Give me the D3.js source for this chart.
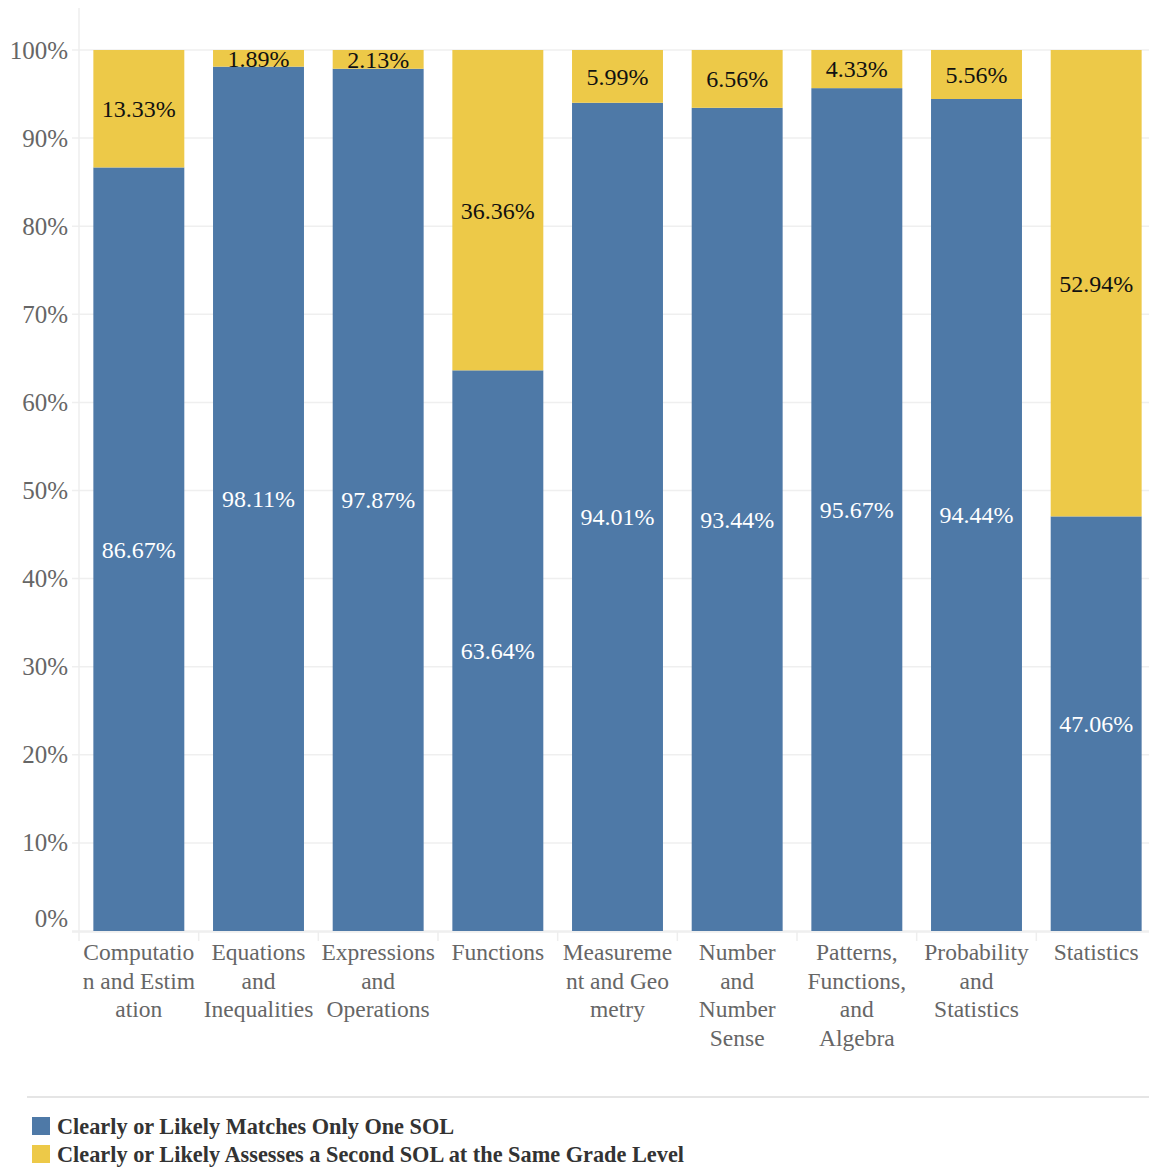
<!DOCTYPE html>
<html>
<head>
<meta charset="utf-8">
<script src="https://cdn.jsdelivr.net/npm/d3@7"></script>
<style>
  html, body { margin: 0; padding: 0; background: #fff; }
  svg { display: block; }
  text { font-family: "Liberation Serif", "Times New Roman", serif; }
</style>
</head>
<body>
<div id="chart"></div>
<script>
// Share of items per strand: matches only one SOL vs. assesses a second SOL
const categories = [
  "Computation and Estimation", "Equations and Inequalities", "Expressions and Operations",
  "Functions", "Measurement and Geometry", "Number and Number Sense",
  "Patterns, Functions, and Algebra", "Probability and Statistics", "Statistics"
];
// Wrapped category labels as they appear under the axis
const categoryLines = [
  ["Computatio", "n and Estim", "ation"],
  ["Equations", "and", "Inequalities"],
  ["Expressions", "and", "Operations"],
  ["Functions"],
  ["Measureme", "nt and Geo", "metry"],
  ["Number", "and", "Number", "Sense"],
  ["Patterns,", "Functions,", "and", "Algebra"],
  ["Probability", "and", "Statistics"],
  ["Statistics"]
];
const oneSol    = [86.67, 98.11, 97.87, 63.64, 94.01, 93.44, 95.67, 94.44, 47.06];
const secondSol = [13.33,  1.89,  2.13, 36.36,  5.99,  6.56,  4.33,  5.56, 52.94];
const seriesNames = [
  "Clearly or Likely Matches Only One SOL",
  "Clearly or Likely Assesses a Second SOL at the Same Grade Level"
];
const seriesColors = ["#4e79a7", "#edc948"];
const yTicks = [0, 10, 20, 30, 40, 50, 60, 70, 80, 90, 100];

const W = 1149, H = 1167;
const svg = d3.select("#chart").append("svg").attr("width", W).attr("height", H);

const x = d3.scaleBand().domain(categories).range([79, 1156])
  .paddingInner(0.24).paddingOuter(0.12);
const y = d3.scaleLinear().domain([0, 100]).range([931, 50]);

// horizontal gridlines
svg.append("g").selectAll("line").data(yTicks).join("line")
  .attr("x1", 72).attr("x2", W)
  .attr("y1", d => y(d)).attr("y2", d => y(d))
  .attr("stroke", "#efefef").attr("stroke-width", 1.5);

// vertical axis line
svg.append("line").attr("x1", 79).attr("x2", 79).attr("y1", 8).attr("y2", 931)
  .attr("stroke", "#eeeeee").attr("stroke-width", 1.5);

// y axis labels (the 0% label sits just above the baseline)
const yAxis = d3.axisLeft(y).tickValues(yTicks).tickFormat(d => d + "%").tickSize(0).tickPadding(11);
const yg = svg.append("g").attr("transform", "translate(79,0)").call(yAxis);
yg.select(".domain").remove();
yg.selectAll("text").attr("font-size", 25).attr("fill", "#666")
  .style("font-family", "'Liberation Serif', serif");
yg.selectAll(".tick").filter(d => d === 0).select("text").attr("y", -13);

// stacked data
const rows = categories.map((c, i) => ({ cat: c, one: oneSol[i], second: secondSol[i] }));
const stack = d3.stack().keys(["one", "second"])(rows);

const layers = svg.append("g").selectAll("g").data(stack).join("g")
  .attr("fill", (d, i) => seriesColors[i]);
layers.selectAll("rect").data(d => d).join("rect")
  .attr("x", d => x(d.data.cat))
  .attr("width", x.bandwidth())
  .attr("y", d => y(d[1]))
  .attr("height", d => y(d[0]) - y(d[1]));

// value labels centered in each segment
const labelG = svg.append("g");
stack.forEach((layer, li) => {
  labelG.selectAll(null).data(layer).join("text")
    .attr("x", d => x(d.data.cat) + x.bandwidth() / 2)
    .attr("y", d => y((d[0] + d[1]) / 2))
    .attr("dy", "0.35em")
    .attr("text-anchor", "middle")
    .attr("font-size", 24)
    .attr("fill", li === 0 ? "#ffffff" : "#111111")
    .text(d => d3.format(".2f")(d[1] - d[0]) + "%");
});

// baseline and category separators
svg.append("line").attr("x1", 72).attr("x2", W).attr("y1", 932).attr("y2", 932)
  .attr("stroke", "#eeeeee").attr("stroke-width", 1.5);
const step = x.step();
const seps = d3.range(categories.length).map(i => x(categories[i]) - x.paddingInner() * step / 2);
svg.append("g").selectAll("line").data(seps).join("line")
  .attr("x1", d => d).attr("x2", d => d).attr("y1", 932).attr("y2", 941)
  .attr("stroke", "#eeeeee").attr("stroke-width", 1.5);

// category labels
const catG = svg.append("g");
categories.forEach((c, i) => {
  const t = catG.append("text")
    .attr("x", x(c) + x.bandwidth() / 2)
    .attr("y", 960)
    .attr("text-anchor", "middle")
    .attr("font-size", 23.5)
    .attr("fill", "#666");
  categoryLines[i].forEach((ln, j) => {
    t.append("tspan").attr("x", x(c) + x.bandwidth() / 2).attr("y", 960 + j * 28.5).text(ln);
  });
});

// legend
svg.append("line").attr("x1", 27).attr("x2", W).attr("y1", 1097).attr("y2", 1097)
  .attr("stroke", "#dddddd").attr("stroke-width", 1.5);
const leg = svg.append("g").selectAll("g").data(seriesNames).join("g")
  .attr("transform", (d, i) => `translate(32, ${1117 + i * 28})`);
leg.append("rect").attr("width", 18).attr("height", 18)
  .attr("fill", (d, i) => seriesColors[i]);
leg.append("text").attr("x", 25).attr("y", 16.5)
  .attr("font-size", 22.3).attr("font-weight", "bold").attr("fill", "#333")
  .text(d => d);
</script>
</body>
</html>
